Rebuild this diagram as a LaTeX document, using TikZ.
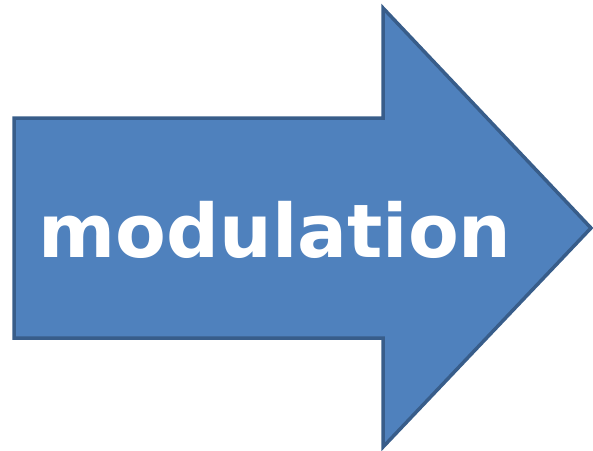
\documentclass[tikz,border=0pt]{standalone}
\usepackage{fontspec}
\setmainfont{DejaVu Sans}
\definecolor{arrowfill}{HTML}{4F81BD}
\definecolor{arrowline}{HTML}{385D8A}
\tikzset{bigarrow/.style={fill=arrowfill,draw=arrowline,line width=3.5pt,line join=miter},
  label/.style={text=white,font=\bfseries\fontsize{74}{80}\selectfont,inner sep=0pt}}
\begin{document}
\begin{tikzpicture}[x=1pt,y=-1pt]
\useasboundingbox (0,0) rectangle (593,450);
\draw[bigarrow] (14,118) -- (383,118) -- (383,8) -- (591,228) -- (383,447) -- (383,338) -- (14,338) -- cycle;
\node[label,anchor=base] (t) at (275,257) {modulation};
\end{tikzpicture}
\end{document}
